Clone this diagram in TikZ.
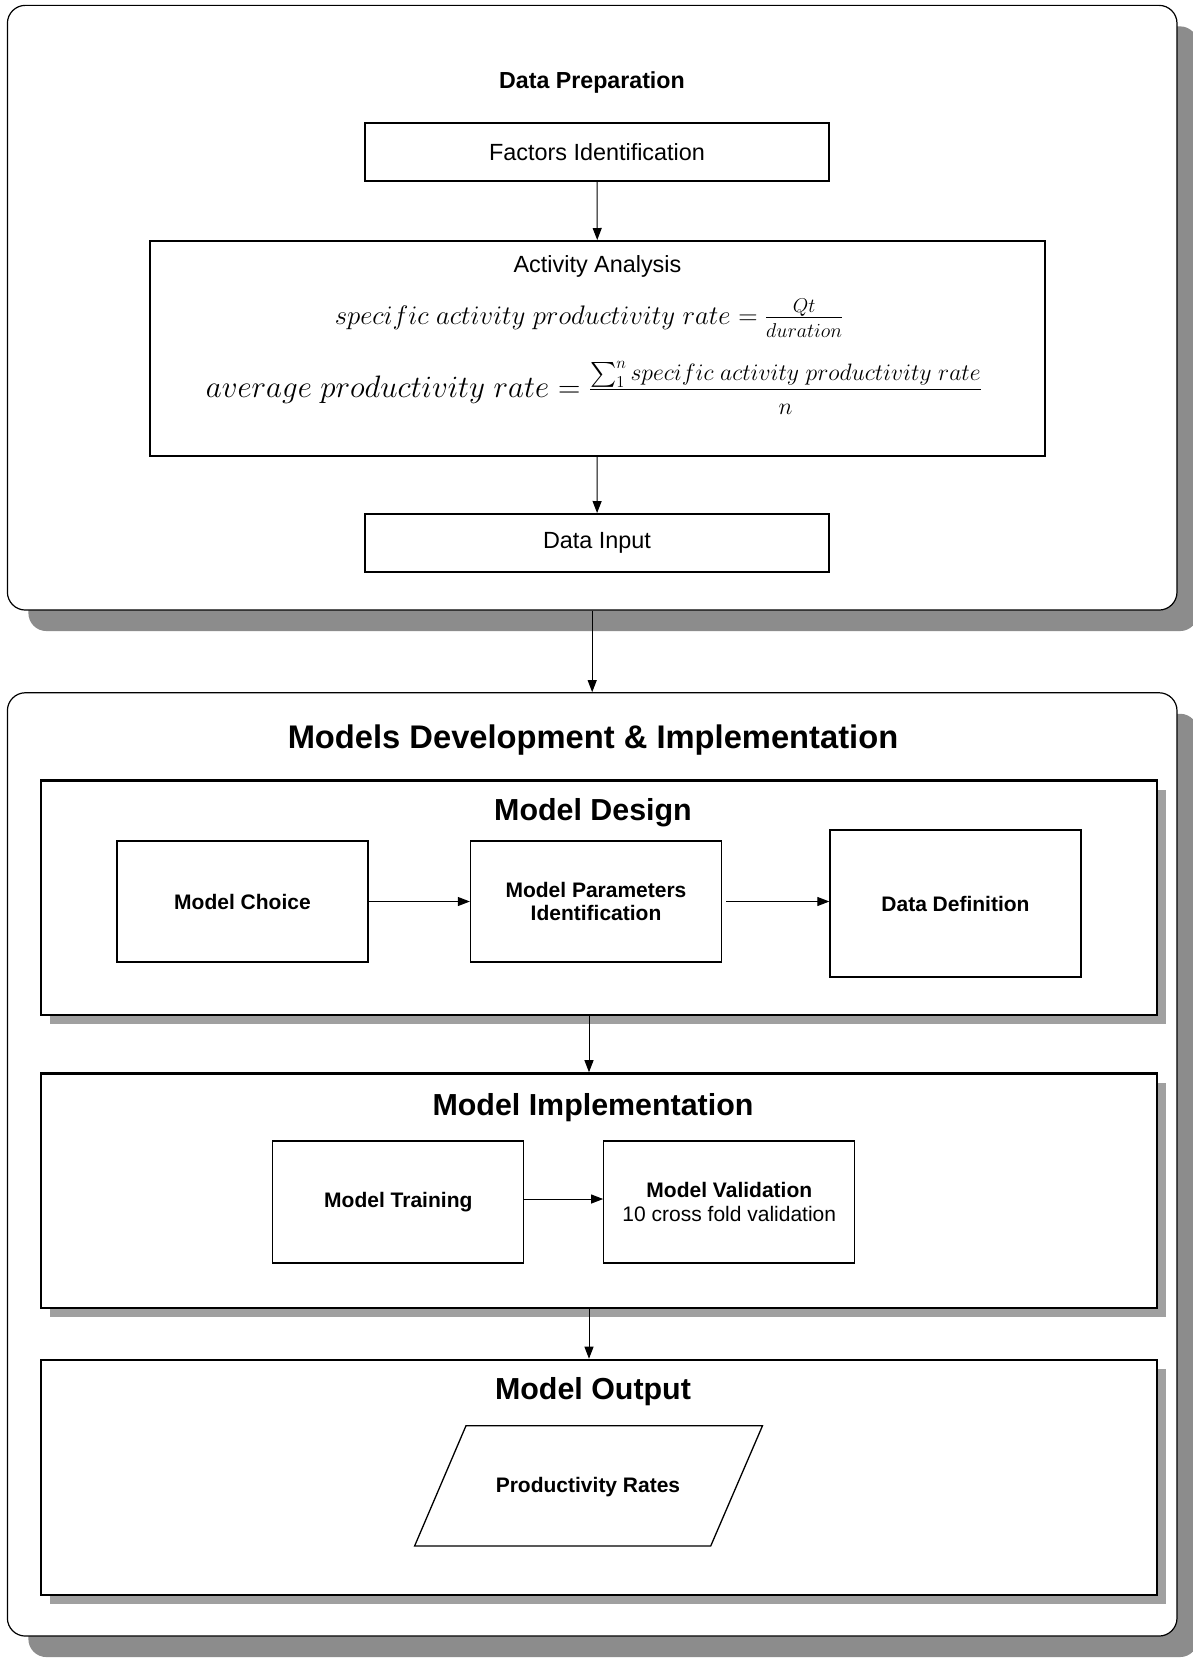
\RequirePackage{fix-cm}
\documentclass[tikz,border=0pt]{standalone}
\usepackage{exscale}
\usepackage[no-math]{fontspec}
\setmainfont{Liberation Sans}
\usetikzlibrary{arrows.meta,shadows}
\definecolor{shadowA}{HTML}{8C8C8C}
\definecolor{shadowB}{HTML}{A0A0A0}
\tikzset{
  outerbox/.style={draw=black, line width=1.2pt, rounded corners=18pt, fill=white,
    drop shadow={shadow xshift=21pt, shadow yshift=-21pt, fill=shadowA, opacity=1}},
  secbox/.style={draw=black, line width=2.6pt, fill=white,
    drop shadow={shadow xshift=9pt, shadow yshift=-9pt, fill=shadowB, opacity=1}},
  prepbox/.style={draw=black, line width=2pt, fill=white, inner sep=0pt,
    font=\fontsize{23.4}{28}\selectfont},
  smallbox/.style={draw=black, line width=1.3pt, fill=white, inner sep=0pt, align=center,
    minimum width=251pt, font=\bfseries\fontsize{21}{24.5}\selectfont},
  regtext/.style={font=\fontsize{23.4}{28}\selectfont, inner sep=0pt},
  sectitle/.style={font=\bfseries\fontsize{30.4}{36}\selectfont, inner sep=0pt},
  bigtitle/.style={font=\bfseries\fontsize{32.7}{38}\selectfont, inner sep=0pt},
  arr/.style={-{Triangle[length=12pt,width=9pt]}, line width=1pt},
}
\begin{document}
\begin{tikzpicture}[x=1pt,y=-1pt]
\fill[white] (0,0) rectangle (1193,1658);
\useasboundingbox (0,0) rectangle (1193,1658);

% ---------- Data Preparation ----------
\node[outerbox, minimum width=1169.6pt, minimum height=604.7pt] (prep) at (592.2,307.7) {};
\node[font=\bfseries\fontsize{23.2}{28}\selectfont, inner sep=0pt] (preptitle) at (592,82.5) {Data Preparation};
\node[prepbox, minimum width=464pt, minimum height=58.3pt] (factors) at (597,151.9) {Factors Identification};
\node[prepbox, minimum width=895pt, minimum height=215pt] (activity) at (597.5,348.5) {};
\node[regtext] (acttitle) at (597.5,266.5) {Activity Analysis};
\node[inner sep=0pt, anchor=base] (f1) at (589,324.5)
  {\fontsize{26.8}{30}\selectfont $specific\ activity\ productivity\ rate=\frac{\hbox{\fontsize{20}{24}\selectfont$Qt$}}{\hbox{\fontsize{20}{24}\selectfont\vrule height 18pt width 0pt$duration$}}$};
\node[inner sep=0pt, anchor=base] (f2) at (594,397.6)
  {\fontsize{31}{36}\selectfont $average\ productivity\ rate=\frac{\hbox{\fontsize{23.7}{28}\selectfont\vrule depth 8pt width 0pt$\sum_1^n specific\ activity\ productivity\ rate$}}{\hbox{\fontsize{23.7}{28}\selectfont\vrule height 23pt width 0pt$n$}}$};
\node[prepbox, minimum width=464pt, minimum height=58pt] (datainput) at (597,543) {Data Input};
\draw[arr] (factors) -- (activity);
\draw[arr] (activity) -- (datainput);

% ---------- Models Development ----------
\node[outerbox, minimum width=1169.6pt, minimum height=943.3pt] (models) at (592.2,1164.4) {};
\draw[arr] (prep.south) -- (models.north);
\node[bigtitle] (modtitle) at (593,740) {Models Development \& Implementation};

% Model Design
\node[secbox, minimum width=1116pt, minimum height=234.5pt] (design) at (599,897.75) {};
\node[sectitle] (designtitle) at (593,813) {Model Design};
\node[smallbox, minimum height=121pt] (choice) at (242.5,901.5) {Model Choice};
\node[smallbox, minimum height=121pt] (params) at (596,901.5) {Model Parameters\\[-1pt]Identification};
\node[smallbox, minimum height=147pt] (datadef) at (955.5,903.5) {Data Definition};
\draw[arr] (choice.east) -- (params.west);
\draw[arr] ([xshift=4pt]params.east) -- (params.east -| datadef.west);

% Model Implementation
\node[secbox, minimum width=1116pt, minimum height=234.5pt] (impl) at (599,1190.75) {};
\node[sectitle] (impltitle) at (593,1108) {Model Implementation};
\node[smallbox, minimum height=122pt] (train) at (398.3,1202) {Model Training};
\node[smallbox, minimum height=122pt] (val) at (729.3,1202)
  {Model Validation\\[-1pt]{\mdseries 10 cross fold validation}};
\draw[arr] ([yshift=3pt]train.east) -- ([yshift=3pt]val.west);
\draw[arr] ([xshift=-10pt]design.south) -- ([xshift=-10pt]impl.north);

% Model Output
\node[secbox, minimum width=1116pt, minimum height=235pt] (output) at (599,1477.5) {};
\node[sectitle] (outtitle) at (593,1391.8) {Model Output};
\draw[arr] ([xshift=-10pt]impl.south) -- ([xshift=-10pt]output.north);
\draw[line width=1.3pt, line join=miter] (466,1425.7) -- (762.5,1425.7) -- (710.7,1546) -- (414.6,1546) -- cycle;
\node[font=\bfseries\fontsize{21}{24.5}\selectfont, inner sep=0pt] (rates) at (588,1487) {Productivity Rates};
\end{tikzpicture}
\end{document}
